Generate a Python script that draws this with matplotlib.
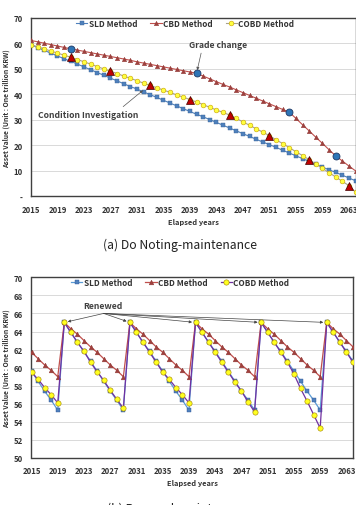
import matplotlib
matplotlib.use("Agg")
import matplotlib.pyplot as plt

plt.rcParams['font.family'] = ['Noto Sans CJK KR', 'DejaVu Sans']

years = list(range(2015, 2065))
xtick_years = list(range(2015, 2064, 4))

# ---------- (a) Do Noting-maintenance ----------
sld_a = [59.5, 58.4, 57.3, 56.2, 55.1, 54.0, 53.0, 51.9, 50.8, 49.7,
         48.6, 47.5, 46.4, 45.3, 44.2, 43.1, 42.1, 41.0, 39.9, 38.8,
         37.7, 36.6, 35.5, 34.4, 33.3, 32.2, 31.2, 30.1, 29.0, 27.9,
         26.8, 25.7, 24.6, 23.5, 22.4, 21.3, 20.3, 19.2, 18.1, 17.0,
         15.9, 14.8, 13.7, 12.6, 11.5, 10.4, 9.4, 8.3, 7.2, 6.1]
cbd_a = [61.2, 60.65, 60.1, 59.55, 59.0, 58.45, 57.9,
         57.4, 56.9, 56.4, 55.9, 55.4, 54.9, 54.4, 53.9, 53.4, 52.8, 52.3,
         51.8, 51.3, 50.8, 50.3, 49.8, 49.3, 48.8, 48.3,
         47.2, 46.1, 45.0, 43.9, 42.9, 41.8, 40.7, 39.6, 38.5, 37.4, 36.3,
         35.2, 34.1, 33.0,
         30.6, 28.1, 25.7, 23.2, 20.8, 18.3, 15.9,
         13.9, 11.9, 10.0]
cobd_a = [59.5, 58.7, 57.9, 57.0, 56.2, 55.4, 54.6,
          53.7, 52.8, 51.9, 50.9, 50.0, 49.1,
          48.2, 47.2, 46.3, 45.4, 44.4, 43.5,
          42.6, 41.7, 40.8, 39.8, 38.9, 38.0,
          37.0, 36.0, 34.9, 33.9, 32.9, 31.9,
          30.6, 29.2, 27.9, 26.5, 25.2, 23.8,
          22.2, 20.7, 19.1, 17.5, 16.0, 14.4,
          12.7, 11.0, 9.3, 7.6, 5.9, 4.2,
          1.6]
grade_years = [2021, 2040, 2054, 2061]
inspect_years = [2021, 2027, 2033, 2039, 2045, 2051, 2057, 2063]
yticks_a = [0, 10, 20, 30, 40, 50, 60, 70]
ylabels_a = ['-', '10', '20', '30', '40', '50', '60', '70']

# ---------- (b) Renewal-maintenance ----------
sld_b = [59.6, 58.5, 57.4, 56.4, 55.3,
         65.0, 63.9, 62.8, 61.8, 60.7, 59.6, 58.5, 57.4, 56.4, 55.3,
         65.0, 63.9, 62.8, 61.8, 60.7, 59.6, 58.5, 57.4, 56.4, 55.3,
         65.0, 63.9, 62.8, 61.8, 60.7, 59.6, 58.5, 57.4, 56.4, 55.3,
         65.0, 63.9, 62.8, 61.8, 60.7, 59.6, 58.5, 57.4, 56.4, 55.3,
         65.0, 63.9, 62.8, 61.8, 60.7]
cbd_b = [61.7, 61.0, 60.3, 59.7, 59.0,
         65.0, 64.3, 63.7, 63.0, 62.3, 61.7, 61.0, 60.3, 59.7, 59.0,
         65.0, 64.3, 63.7, 63.0, 62.3, 61.7, 61.0, 60.3, 59.7, 59.0,
         65.0, 64.3, 63.7, 63.0, 62.3, 61.7, 61.0, 60.3, 59.7, 59.0,
         65.0, 64.3, 63.7, 63.0, 62.3, 61.7, 61.0, 60.3, 59.7, 59.0,
         65.0, 64.3, 63.7, 63.0, 62.3]
cobd_b = [59.5, 58.7, 57.8, 57.0, 56.1,
          65.0, 63.9, 62.8, 61.8, 60.6, 59.55, 58.6, 57.5, 56.5, 55.5,
          65.0, 63.9, 62.8, 61.7, 60.6, 59.5, 58.7, 57.8, 57.0, 56.1,
          65.0, 63.9, 62.8, 61.7, 60.6, 59.5, 58.4, 57.4, 56.2, 55.1,
          65.0, 63.9, 62.8, 61.7, 60.6, 59.3, 57.7, 56.3, 54.8, 53.3,
          65.0, 63.9, 62.8, 61.7, 60.6]
renew_years = [2020, 2030, 2040, 2050, 2060]
renew_value = 65.0
yticks_b = [50, 52, 54, 56, 58, 60, 62, 64, 66, 68, 70]

W, H = 356, 506
fig = plt.figure(figsize=(W / 100, H / 100), dpi=100)

def px_axes(l, t, r, b):
    return fig.add_axes([l / W, 1 - b / H, (r - l) / W, (b - t) / H])

tick_color = '#333333'
grid_color = '#d9d9d9'

def style_axes(ax, yticks, ylabels):
    ax.set_xlim(2015, 2064)
    ax.set_xticks(xtick_years)
    ax.set_xticklabels([str(y) for y in xtick_years], fontsize=5.6,
                       fontweight='bold', color=tick_color)
    ax.set_yticks(yticks)
    ax.set_yticklabels(ylabels, fontsize=5.6, fontweight='bold', color=tick_color)
    ax.tick_params(axis='x', length=0, pad=6.0)
    ax.tick_params(axis='y', length=0, pad=6.0)
    ax.yaxis.grid(True, color=grid_color, lw=0.7)
    ax.set_axisbelow(True)
    for s in ax.spines.values():
        s.set_color('#404040')
        s.set_linewidth(1.0)
    ax.set_xlabel('Elapsed years', fontsize=5.4, fontweight='bold',
                  color=tick_color, labelpad=3)
    ax.set_ylabel('Asset Value (Unit : One trillion KRW)', fontsize=4.9,
                  fontweight='bold', color=tick_color, labelpad=2.5)

def style_legend(leg):
    for t in leg.get_texts():
        t.set_fontweight('bold')
        t.set_color('#333333')

# ---- top chart ----
ax1 = px_axes(31, 19, 355.5, 197.3)
ax1.set_ylim(0, 70)
style_axes(ax1, yticks_a, ylabels_a)

ax1.plot(years, sld_a, color='#4F81BD', lw=0.8, marker='s', ms=2.8,
         mfc='#4F81BD', mec='#3A6496', mew=0.3, label='SLD Method', zorder=3)
ax1.plot(years, cbd_a, color='#C0504D', lw=0.8, marker='^', ms=3.2,
         mfc='#A0413E', mec='#8B3532', mew=0.3, label='CBD Method', zorder=3)
ax1.plot(years, cobd_a, color='#A9A38A', lw=0.8, marker='o', ms=3.4,
         mfc='#FFFF40', mec='#C8A200', mew=0.4, label='COBD Method', zorder=4)

gy = [cbd_a[years.index(y)] for y in grade_years]
ax1.plot(grade_years, gy, ls='none', marker='o', ms=5.0, mfc='#2E75B6',
         mec='#1F3864', mew=0.6, zorder=6)
iy = [cobd_a[years.index(y)] for y in inspect_years]
ax1.plot(inspect_years, iy, ls='none', marker='^', ms=5.8, mfc='#C00000',
         mec='#400000', mew=0.5, zorder=6)

ax1.annotate('Grade change', xy=(2040.1, 49.5), xytext=(2043.2, 59.6),
             fontsize=6.2, fontweight='bold', color='#404040',
             ha='center', va='center',
             arrowprops=dict(arrowstyle='-|>', color='#555555', lw=0.5,
                             mutation_scale=4, relpos=(0.23, 0.0),
                             shrinkA=1, shrinkB=0))
ax1.annotate('Condition Investigation', xy=(2031.9, 41.6), xytext=(2023.7, 32.0),
             fontsize=6.2, fontweight='bold', color='#404040',
             ha='center', va='center',
             arrowprops=dict(arrowstyle='-|>', color='#555555', lw=0.5,
                             mutation_scale=4, relpos=(0.8, 1.0),
                             shrinkA=1, shrinkB=0))

leg1 = ax1.legend(loc='center', bbox_to_anchor=(0.475, 0.969), ncol=3,
                  frameon=False, fontsize=5.9, handlelength=1.4,
                  handletextpad=0.15, columnspacing=1.6, borderpad=0)
style_legend(leg1)

fig.text(180 / W, 1 - 245 / H, '(a) Do Noting-maintenance', ha='center',
         va='center', fontsize=8.8, color='#222222')

# ---- bottom chart ----
ax2 = px_axes(31.5, 278.3, 353, 459)
ax2.set_ylim(50, 70)
style_axes(ax2, yticks_b, [str(v) for v in yticks_b])

ax2.plot(years, sld_b, color='#5B9BD5', lw=0.9, marker='s', ms=3.0,
         mfc='#4F81BD', mec='#2F5597', mew=0.3, label='SLD Method', zorder=3)
ax2.plot(years, cbd_b, color='#C0504D', lw=0.9, marker='^', ms=3.4,
         mfc='#A0413E', mec='#8B3532', mew=0.3, label='CBD Method', zorder=3)
ax2.plot(years, cobd_b, color='#7030A0', lw=0.9, marker='o', ms=3.8,
         mfc='#FFFF20', mec='#A08000', mew=0.4, label='COBD Method', zorder=4)

ax2.text(2025.9, 66.86, 'Renewed', fontsize=6.2, fontweight='bold',
         color='#404040', ha='center', va='center')
for ry in renew_years:
    ax2.annotate('', xy=(ry, renew_value), xytext=(2026.0, 66.0),
                 arrowprops=dict(arrowstyle='-|>', color='#444444', lw=0.5,
                                 mutation_scale=4, shrinkA=0, shrinkB=2.5))

leg2 = ax2.legend(loc='center', bbox_to_anchor=(0.462, 0.972), ncol=3,
                  frameon=False, fontsize=5.9, handlelength=1.4,
                  handletextpad=0.15, columnspacing=1.6, borderpad=0)
style_legend(leg2)

fig.text(180 / W, 1 - 503 / H, '(b) Renewal-maintenance', ha='center',
         va='top', fontsize=8.8, color='#222222')

fig.savefig('out.png', dpi=100)
